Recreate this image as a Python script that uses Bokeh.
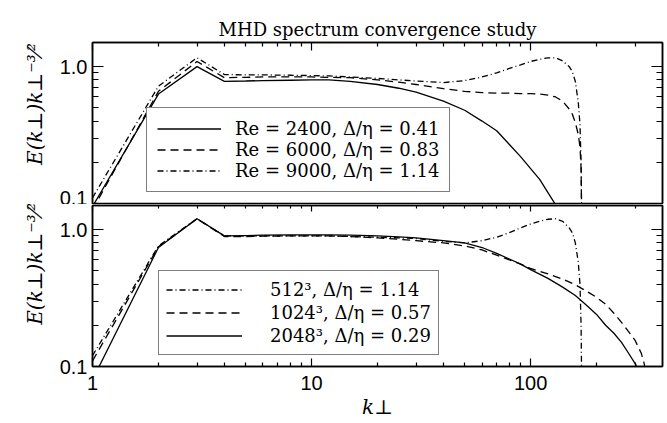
from bokeh.plotting import figure
from bokeh.models import (LogAxis, FixedTicker, PrintfTickFormatter, Legend, LegendItem,
                          Range1d, CustomJSTickFormatter)
from bokeh.layouts import column
from bokeh.embed import file_html
from bokeh.resources import INLINE

# ---------------- data ----------------
title_text = "MHD spectrum convergence study"

# top panel
k_re2400 = [1, 2, 3, 4, 5, 6, 8, 10, 12, 15, 20, 25, 30, 40, 50, 60, 70, 80, 90, 100, 110, 120, 130, 140]
e_re2400 = [0.095, 0.63, 1.0, 0.78, 0.785, 0.79, 0.795, 0.80, 0.80, 0.78, 0.74, 0.695, 0.65, 0.56, 0.48,
            0.40, 0.34, 0.27, 0.22, 0.18, 0.15, 0.12, 0.098, 0.078]

k_re6000 = [1, 2, 3, 4, 5, 6, 8, 10, 12, 15, 20, 25, 30, 40, 50, 60, 70, 80, 90, 100, 110, 120, 130, 140,
            150, 155, 160, 165, 168, 170, 171]
e_re6000 = [0.09, 0.66, 1.09, 0.83, 0.835, 0.84, 0.84, 0.84, 0.835, 0.83, 0.80, 0.77, 0.74, 0.69, 0.66,
            0.645, 0.64, 0.64, 0.635, 0.635, 0.63, 0.62, 0.60, 0.56, 0.49, 0.45, 0.39, 0.32, 0.26, 0.18, 0.08]

k_re9000 = [1, 2, 3, 4, 5, 6, 8, 10, 12, 15, 20, 25, 30, 40, 50, 60, 70, 80, 90, 100, 110, 120, 130, 140,
            150, 155, 160, 165, 168, 170, 171]
e_re9000 = [0.11, 0.72, 1.16, 0.875, 0.87, 0.87, 0.865, 0.86, 0.855, 0.84, 0.82, 0.80, 0.785, 0.765, 0.79,
            0.84, 0.90, 0.97, 1.03, 1.09, 1.13, 1.16, 1.16, 1.10, 1.0, 0.92, 0.78, 0.55, 0.38, 0.2, 0.08]

labels_top = ["Re = 2400, Δ/η = 0.41", "Re = 6000, Δ/η = 0.83", "Re = 9000, Δ/η = 1.14"]

# bottom panel
k_512 = [1, 2, 3, 4, 5, 6, 8, 10, 12, 15, 20, 25, 30, 40, 50, 60, 70, 80, 90, 100, 110, 120, 130, 140,
         150, 155, 160, 165, 168, 170, 171]
e_512 = [0.12, 0.76, 1.2, 0.9, 0.9, 0.9, 0.9, 0.9, 0.9, 0.89, 0.88, 0.87, 0.86, 0.82, 0.80, 0.83, 0.88,
         0.95, 1.03, 1.1, 1.15, 1.19, 1.2, 1.15, 1.03, 0.95, 0.8, 0.58, 0.4, 0.2, 0.08]

k_1024 = [1, 2, 3, 4, 5, 6, 8, 10, 12, 15, 20, 25, 30, 40, 50, 60, 70, 80, 90, 100, 120, 140, 160, 180,
          200, 220, 240, 260, 280, 300, 320, 330, 335]
e_1024 = [0.11, 0.75, 1.2, 0.89, 0.89, 0.895, 0.9, 0.9, 0.9, 0.89, 0.87, 0.85, 0.83, 0.80, 0.76, 0.71,
          0.65, 0.60, 0.56, 0.52, 0.475, 0.435, 0.395, 0.355, 0.32, 0.285, 0.245, 0.21, 0.18, 0.155,
          0.125, 0.105, 0.09]

k_2048 = [1, 2, 3, 4, 5, 6, 8, 10, 12, 15, 20, 25, 30, 40, 50, 60, 70, 80, 90, 100, 120, 140, 160, 180,
          200, 220, 240, 260, 280, 300, 310]
e_2048 = [0.08, 0.74, 1.2, 0.9, 0.905, 0.91, 0.915, 0.915, 0.915, 0.91, 0.90, 0.885, 0.87, 0.83, 0.80,
          0.74, 0.67, 0.61, 0.56, 0.51, 0.44, 0.38, 0.33, 0.28, 0.24, 0.20, 0.175, 0.15, 0.125, 0.105, 0.095]

labels_bottom = ["512³, Δ/η = 1.14", "1024³, Δ/η = 0.57", "2048³, Δ/η = 0.29"]

x_major = [1, 10, 100]
x_minor = [2, 3, 4, 5, 6, 7, 8, 9, 20, 30, 40, 50, 60, 70, 80, 90, 200, 300]
y_major = [0.1, 1.0]
y_minor = [0.2, 0.3, 0.4, 0.5, 0.6, 0.7, 0.8, 0.9]

ylabel = "E(k⊥)k⊥⁻³⁄²"
xlabel = "k⊥"

# ---------------- styling helpers ----------------
SERIF = "DejaVu Serif"
SANS = "Liberation Sans"
W = 667
LB, RB = 92, 5


def xt():
    return FixedTicker(ticks=x_major, minor_ticks=x_minor)


def yt():
    return FixedTicker(ticks=y_major, minor_ticks=y_minor)


def style(ax, maj, mnr, show_labels):
    ax.major_tick_in = maj
    ax.major_tick_out = 0
    ax.minor_tick_in = mnr
    ax.minor_tick_out = 0
    ax.axis_line_color = "black"
    ax.axis_line_width = 1.5
    ax.major_tick_line_color = "black"
    ax.minor_tick_line_color = "black"
    ax.major_tick_line_width = 1.2
    ax.minor_tick_line_width = 1.2
    if show_labels:
        ax.major_label_text_font = SANS
        ax.major_label_text_font_size = "20px"
        ax.major_label_text_color = "black"
    else:
        ax.formatter = CustomJSTickFormatter(code="return '';")
        ax.major_label_text_font_size = "1px"
        ax.major_label_standoff = 0


def hidden_axis(ticker, maj, mnr):
    ax = LogAxis(ticker=ticker)
    style(ax, maj, mnr, False)
    return ax


def make_fig(height, top, bottom, xloc, pad_count, title=None):
    kw = dict(width=W, height=height, x_axis_type="log", y_axis_type="log",
              x_range=Range1d(1, 400), y_range=Range1d(0.1, 1.5),
              output_backend="svg", toolbar_location=None,
              x_axis_location=xloc, y_axis_location="left",
              min_border_left=LB, min_border_right=RB,
              min_border_top=top, min_border_bottom=bottom)
    if title:
        kw["title"] = title
    p = figure(**kw)
    p.xgrid.visible = False
    p.ygrid.visible = False
    p.outline_line_color = "black"
    p.outline_line_width = 1.5
    p.background_fill_color = "white"
    p.border_fill_color = "white"
    # left axis
    ya = p.yaxis[0]
    ya.ticker = yt()
    ya.formatter = PrintfTickFormatter(format="%.1f")
    style(ya, 11, 6, True)
    ya.major_label_standoff = 5
    # leading no-break spaces re-centre the rotated label on the panel
    ya.axis_label = "\u00a0" * pad_count + ylabel
    ya.axis_label_text_font = SERIF
    ya.axis_label_text_font_style = "italic"
    ya.axis_label_text_font_size = "20px"
    ya.axis_label_text_color = "black"
    ya.axis_label_standoff = 10
    # right axis
    p.add_layout(hidden_axis(yt(), 11, 6), "right")
    return p


def make_legend(items, loc, pad, row_h, glyph_w, standoff):
    return Legend(items=items, location=loc, margin=0, padding=pad, spacing=0,
                  glyph_width=glyph_w, glyph_height=row_h, label_height=row_h,
                  label_standoff=standoff,
                  label_text_font=SERIF, label_text_font_size="18px",
                  label_text_color="black",
                  border_line_color="black", border_line_width=1.3,
                  background_fill_color="white", background_fill_alpha=1.0)


# ---------------- top panel ----------------
p1 = make_fig(204, 42, 1, "above", 6, title_text)
p1.title.text_font = SERIF
p1.title.text_font_size = "18px"
p1.title.text_font_style = "normal"
p1.title.text_color = "black"
p1.title.align = "center"
p1.title.standoff = 6
xa = p1.xaxis[0]
xa.ticker = xt()
style(xa, 8, 4, False)

r1 = p1.line(k_re2400, e_re2400, line_color="black", line_width=1.3)
r2 = p1.line(k_re6000, e_re6000, line_color="black", line_width=1.3, line_dash="8 5")
r3 = p1.line(k_re9000, e_re9000, line_color="black", line_width=1.3, line_dash="6 3 1 3")

leg1 = make_legend([LegendItem(label=labels_top[0], renderers=[r1]),
                    LegendItem(label=labels_top[1], renderers=[r2]),
                    LegendItem(label=labels_top[2], renderers=[r3])],
                   (54, 11), 10, 21, 64, 14)
p1.add_layout(leg1)

# ---------------- bottom panel ----------------
p2 = make_fig(219, 1, 57, "below", 7)
xb = p2.xaxis[0]
xb.ticker = xt()
xb.formatter = PrintfTickFormatter(format="%d")
style(xb, 8, 4, True)
xb.major_label_standoff = 9
xb.axis_label = xlabel
xb.axis_label_text_font = SERIF
xb.axis_label_text_font_style = "italic"
xb.axis_label_text_font_size = "20px"
xb.axis_label_text_color = "black"
xb.axis_label_standoff = 2
p2.add_layout(hidden_axis(xt(), 6, 3), "above")

s1 = p2.line(k_512, e_512, line_color="black", line_width=1.3, line_dash="6 3 1 3")
s2 = p2.line(k_1024, e_1024, line_color="black", line_width=1.3, line_dash="8 5")
s3 = p2.line(k_2048, e_2048, line_color="black", line_width=1.3)

leg2 = make_legend([LegendItem(label=labels_bottom[0], renderers=[s1]),
                    LegendItem(label=labels_bottom[1], renderers=[s2]),
                    LegendItem(label=labels_bottom[2], renderers=[s3])],
                   (66, 11), 7, 23, 76, 28)
p2.add_layout(leg2)

layout = column(p1, p2, spacing=0)
open("out.html", "w").write(file_html(layout, INLINE))
